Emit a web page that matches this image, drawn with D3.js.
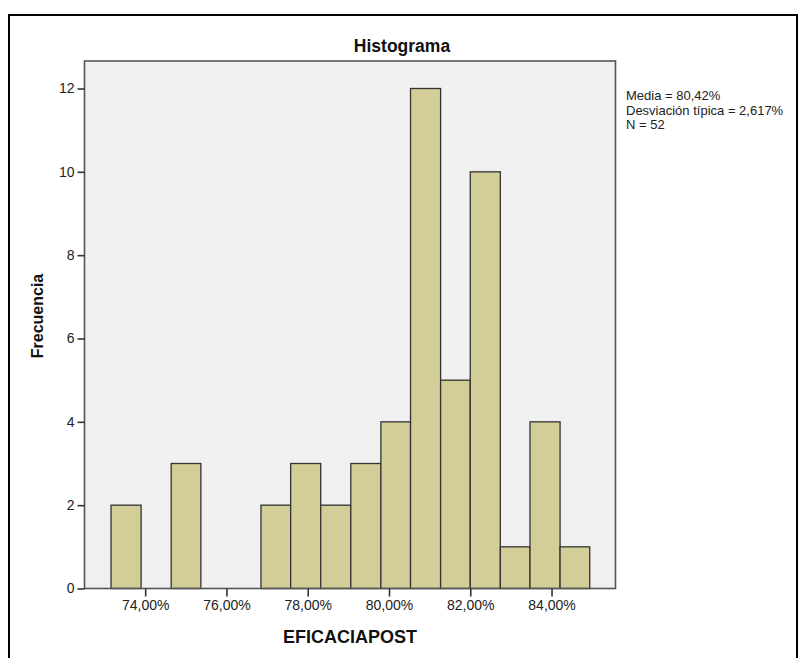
<!DOCTYPE html>
<html>
<head>
<meta charset="utf-8">
<script src="https://cdn.jsdelivr.net/npm/d3@7"></script>
<style>
  html, body { margin: 0; padding: 0; background: #fff; }
  svg { display: block; font-family: "Liberation Sans", Arial, sans-serif; }
</style>
</head>
<body>
<svg id="chart" width="807" height="658"></svg>
<script>
// ---- Data ----
const binEdges = [73.16, 73.90, 74.64, 75.37, 76.11, 76.85, 77.58, 78.32, 79.06, 79.80, 80.53, 81.27, 82.00, 82.74, 83.47, 84.21, 84.94];
const counts   = [2, 0, 3, 0, 0, 2, 3, 2, 3, 4, 12, 5, 10, 1, 4, 1];
const xTicks = [74, 76, 78, 80, 82, 84];
const xTickLabels = ["74,00%", "76,00%", "78,00%", "80,00%", "82,00%", "84,00%"];
const yTicks = [0, 2, 4, 6, 8, 10, 12];
const statsLines = ["Media = 80,42%", "Desviación típica = 2,617%", "N = 52"];
const titleText = "Histograma";
const xLabel = "EFICACIAPOST";
const yLabel = "Frecuencia";

// ---- Layout ----
const svg = d3.select("#chart");
const plot = { left: 84.5, top: 61, right: 615.5, bottom: 588.5 };

const x = d3.scaleLinear().domain([72.507, 85.574]).range([plot.left, plot.right]);
const y = d3.scaleLinear().domain([0, 12.66]).range([plot.bottom, plot.top]);

// outer border
svg.append("rect")
  .attr("x", 9).attr("y", 15).attr("width", 788).attr("height", 660)
  .attr("fill", "none").attr("stroke", "#000").attr("stroke-width", 2);

// plot background
svg.append("rect")
  .attr("x", plot.left).attr("y", plot.top)
  .attr("width", plot.right - plot.left).attr("height", plot.bottom - plot.top)
  .attr("fill", "#f0f0f0");

// bars
const bins = counts.map((c, i) => ({ x0: binEdges[i], x1: binEdges[i + 1], n: c })).filter(d => d.n > 0);
svg.append("g").selectAll("rect").data(bins).join("rect")
  .attr("x", d => x(d.x0))
  .attr("y", d => y(d.n))
  .attr("width", d => x(d.x1) - x(d.x0))
  .attr("height", d => y(0) - y(d.n))
  .attr("fill", "#d3ce97")
  .attr("stroke", "#333")
  .attr("stroke-width", 1.3);

// plot frame
svg.append("rect")
  .attr("x", plot.left).attr("y", plot.top)
  .attr("width", plot.right - plot.left).attr("height", plot.bottom - plot.top)
  .attr("fill", "none").attr("stroke", "#555").attr("stroke-width", 1.6);

// y axis
const yAxis = d3.axisLeft(y).tickValues(yTicks).tickSize(7).tickPadding(3).tickFormat(d3.format("d"));
const gy = svg.append("g").attr("transform", `translate(${plot.left},0)`).call(yAxis);
gy.select(".domain").remove();
gy.selectAll(".tick line").attr("stroke", "#333").attr("stroke-width", 1.6);
gy.selectAll(".tick text").attr("font-size", 14).attr("fill", "#222")
  .attr("font-family", "Liberation Sans, Arial, sans-serif");

// x axis
const xAxis = d3.axisBottom(x).tickValues(xTicks).tickSize(8).tickPadding(4)
  .tickFormat((d, i) => xTickLabels[i]);
const gx = svg.append("g").attr("transform", `translate(0,${plot.bottom})`).call(xAxis);
gx.select(".domain").remove();
gx.selectAll(".tick line").attr("stroke", "#333").attr("stroke-width", 1.6);
gx.selectAll(".tick text").attr("font-size", 14).attr("fill", "#222")
  .attr("font-family", "Liberation Sans, Arial, sans-serif");

// title
svg.append("text")
  .attr("x", 402).attr("y", 51.5)
  .attr("text-anchor", "middle")
  .attr("font-size", 17.5).attr("font-weight", "bold").attr("fill", "#111")
  .text(titleText);

// x label
svg.append("text")
  .attr("x", (plot.left + plot.right) / 2).attr("y", 643)
  .attr("text-anchor", "middle")
  .attr("font-size", 18).attr("font-weight", "bold").attr("fill", "#111")
  .text(xLabel);

// y label
svg.append("text")
  .attr("transform", `translate(43,316) rotate(-90)`)
  .attr("text-anchor", "middle")
  .attr("font-size", 16).attr("font-weight", "bold").attr("fill", "#111")
  .text(yLabel);

// stats (one text element per line)
svg.append("g").selectAll("text").data(statsLines).join("text")
  .attr("x", 626)
  .attr("y", (d, i) => 100 + i * 14.5)
  .attr("font-size", 13).attr("fill", "#222")
  .text(d => d);
</script>
</body>
</html>
